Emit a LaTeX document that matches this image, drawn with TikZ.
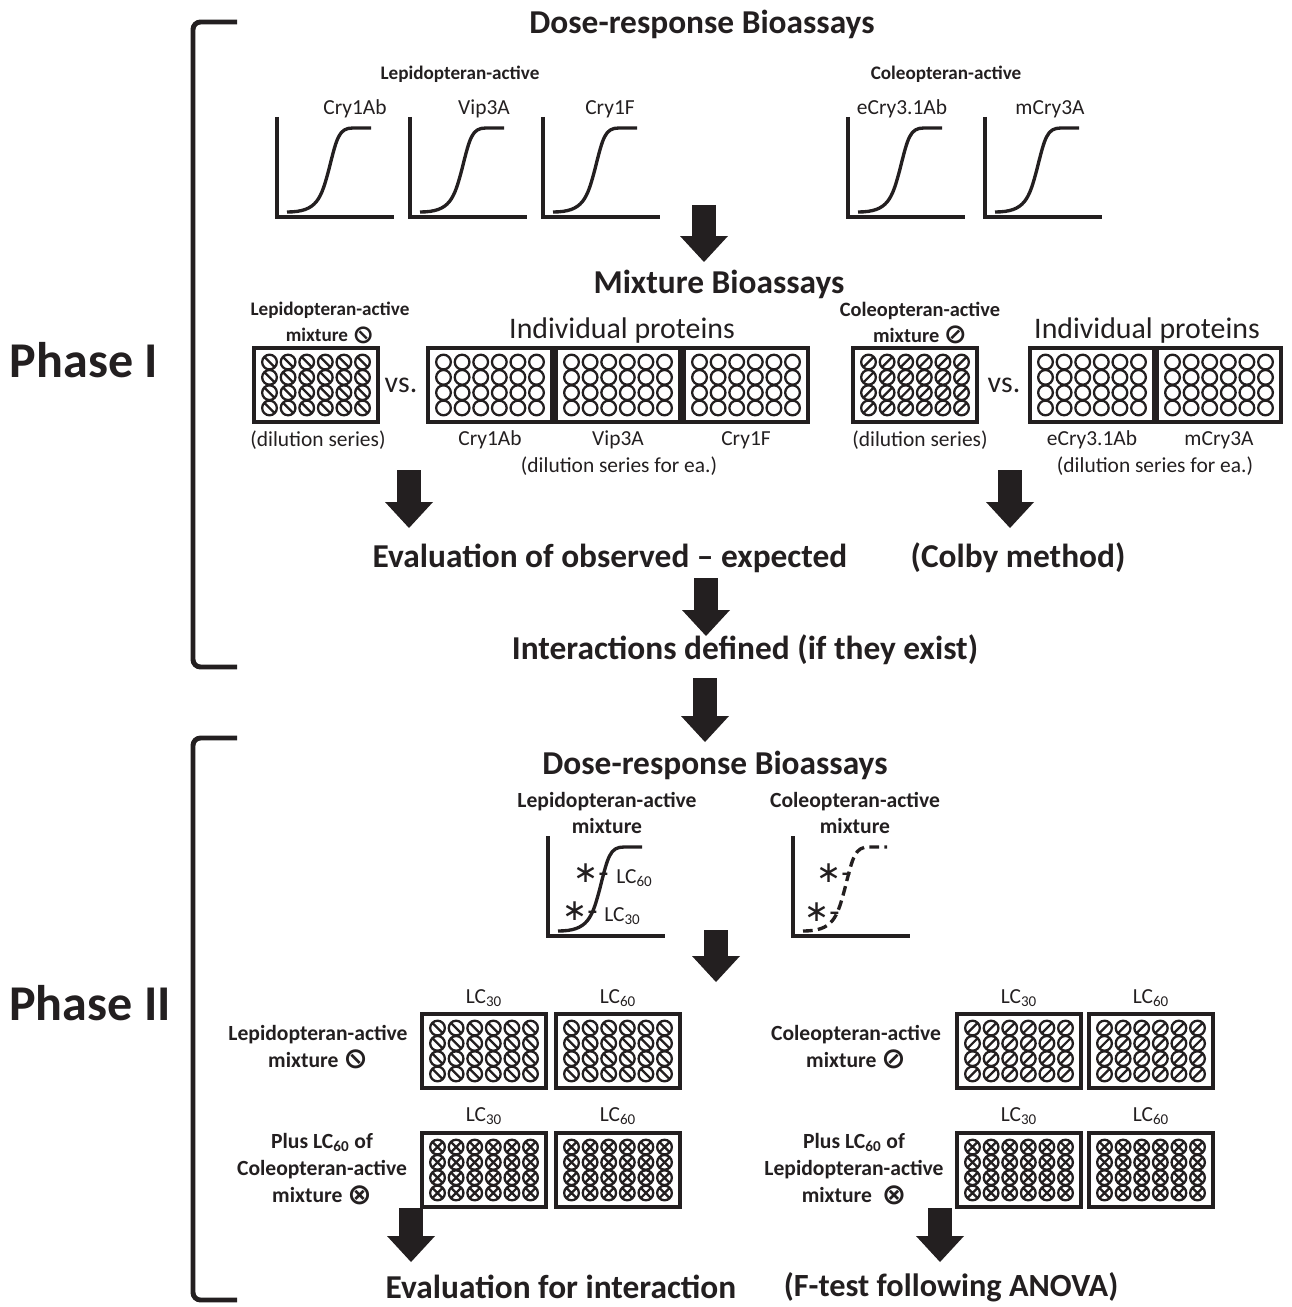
\documentclass[tikz,border=0pt]{standalone}
\usepackage{fontspec}
\usepackage{graphicx}
\setmainfont{Carlito}
\newfontfamily\symfont{DejaVu Sans}
\usetikzlibrary{arrows.meta}
\definecolor{ink}{RGB}{35,31,32}
\newcommand{\lepsym}{\raisebox{-0.15ex}{\scalebox{1.35}{\reflectbox{\symfont ⊘}}}}
\newcommand{\colsym}{\raisebox{-0.15ex}{\scalebox{1.35}{\symfont ⊘}}}
\newcommand{\plussym}{\raisebox{-0.15ex}{\scalebox{1.35}{\symfont ⊗}}}
\newcommand{\lcmark}{{\symfont ∗-}}
\tikzstyle{ttl} = [font=\fontsize{19}{23}\selectfont\bfseries, text=ink, inner sep=0pt]
\tikzstyle{phasetxt} = [font=\fontsize{28.5}{34}\selectfont\bfseries, text=ink, inner sep=0pt]
\tikzstyle{smalltxt} = [font=\fontsize{12.2}{15}\selectfont, text=ink, inner sep=0pt]
\tikzstyle{midtxt} = [font=\fontsize{17}{20}\selectfont, text=ink, inner sep=0pt]
\tikzstyle{headtxt} = [font=\fontsize{10.9}{14.7}\selectfont\bfseries, text=ink, inner sep=0pt, align=center]
\tikzstyle{headtxtb} = [font=\fontsize{12.3}{15.3}\selectfont\bfseries, text=ink, inner sep=0pt, align=center]
\tikzstyle{startxt} = [font=\fontsize{17}{18}\selectfont, text=ink, inner sep=0pt]
\tikzstyle{fatarrow} = [draw=ink, line width=0.48cm, -{Triangle[length=0.52cm,width=0.96cm,line width=0pt]}]
\tikzstyle{bracket} = [draw=ink, line width=2.8pt, rounded corners=0.15cm]
\tikzstyle{axisline} = [draw=ink, line width=2.8pt]
\tikzstyle{curveline} = [draw=ink, line width=1.9pt]
\tikzstyle{plateline} = [draw=ink, line width=2.6pt]
\tikzstyle{wellline} = [draw=ink, line width=1.3pt]
\tikzset{
  pics/plate/.style={code={
    \draw[plateline] (-62,-37) rectangle (62,37);
    \foreach \col in {0,...,5}
      \foreach \row in {0,...,3}
        \pic at ({(\col-2.5)*18.6},{(1.5-\row)*15.3}) {#1};
  }},
  pics/wellO/.style={code={\draw[wellline] (0,0) circle[radius=0.147cm];}},
  pics/wellL/.style={code={\draw[wellline] (0,0) circle[radius=0.147cm] (135:0.147cm) -- (-45:0.147cm);}},
  pics/wellC/.style={code={\draw[wellline] (0,0) circle[radius=0.147cm] (45:0.147cm) -- (225:0.147cm);}},
  pics/wellX/.style={code={\draw[wellline] (0,0) circle[radius=0.147cm] (45:0.147cm) -- (225:0.147cm) (135:0.147cm) -- (-45:0.147cm);}},
  pics/doseplot/.style={code={
    \draw[axisline] (0,100) -- (0,0) -- (117,0);
    \draw[curveline,#1] (10,5) .. controls (40,5) and (44,18) .. (52,48) .. controls (60,80) and (62,89) .. (76,89) -- (94,89);
  }},
}

\begin{document}
\begin{tikzpicture}[x=0.02cm, y=0.02cm]
    \useasboundingbox (0,0) rectangle (1291,-1307);
    % Phase I
    \draw [bracket] (237,-22) -- (193,-22) -- (193,-667) -- (237,-667);
    \node [phasetxt] (phase1) at (84,-360) {Phase I};
    \node [ttl] (dose1) at (702,-24) {Dose-response Bioassays};
    \node [headtxt] (lep1) at (460,-74) {Lepidopteran-active};
    \node [headtxt] (col1) at (946,-74) {Coleopteran-active};
    \node [smalltxt] (c1ab) at (355,-109) {Cry1Ab};
    \node [smalltxt] (v3a) at (484,-109) {Vip3A};
    \node [smalltxt] (c1f) at (610,-109) {Cry1F};
    \node [smalltxt] (ec3) at (902,-109) {eCry3.1Ab};
    \node [smalltxt] (mc3) at (1050,-109) {mCry3A};
    \pic at (277,-217) {doseplot};
    \pic at (410,-217) {doseplot};
    \pic at (543,-217) {doseplot};
    \pic at (848,-217) {doseplot};
    \pic at (985,-217) {doseplot};
    \coordinate (a1s) at (704,-205);
    \coordinate (a1e) at (704,-262);
    \draw [fatarrow] (a1s) -- (a1e);

    \node [ttl] (mix) at (719,-284) {Mixture Bioassays};
    \node [headtxt] (lepmix) at (330,-323) {Lepidopteran-active\\mixture \lepsym};
    \node [midtxt] (ind1) at (622,-331) {Individual proteins};
    \node [headtxt, font=\fontsize{11.6}{14.7}\selectfont\bfseries] (colmix) at (920,-323) {Coleopteran-active\\mixture \colsym};
    \node [midtxt] (ind2) at (1147,-331) {Individual proteins};
    \pic at (316,-385) {plate=wellL};
    \node [midtxt] (vs1) at (401,-385) {vs.};
    \pic at (490,-385) {plate=wellO};
    \pic at (618,-385) {plate=wellO};
    \pic at (746,-385) {plate=wellO};
    \pic at (915,-385) {plate=wellC};
    \node [midtxt] (vs2) at (1004,-385) {vs.};
    \pic at (1092,-385) {plate=wellO};
    \pic at (1219,-385) {plate=wellO};
    \node [smalltxt] (dil1) at (318,-440) {(dilution series)};
    \node [smalltxt] (pc1ab) at (490,-440) {Cry1Ab};
    \node [smalltxt] (pv3a) at (618,-440) {Vip3A};
    \node [smalltxt] (pc1f) at (746,-440) {Cry1F};
    \node [smalltxt] (dilea1) at (619,-466) {(dilution series for ea.)};
    \node [smalltxt] (dil2) at (920,-440) {(dilution series)};
    \node [smalltxt] (pec3) at (1092,-440) {eCry3.1Ab};
    \node [smalltxt] (pmc3) at (1219,-440) {mCry3A};
    \node [smalltxt] (dilea2) at (1155,-466) {(dilution series for ea.)};
    \coordinate (a2s) at (409,-470);
    \coordinate (a2e) at (409,-528);
    \coordinate (a3s) at (1010,-470);
    \coordinate (a3e) at (1010,-528);
    \draw [fatarrow] (a2s) -- (a2e);
    \draw [fatarrow] (a3s) -- (a3e);

    \node [ttl] (evalobs) at (610,-558) {Evaluation of observed -- expected};
    \node [ttl] (colby) at (1018,-558) {(Colby method)};
    \coordinate (a4s) at (706,-578);
    \coordinate (a4e) at (706,-636);
    \draw [fatarrow] (a4s) -- (a4e);
    \node [ttl] (inter) at (745,-650) {Interactions defined (if they exist)};
    \coordinate (a5s) at (705,-678);
    \coordinate (a5e) at (705,-742);
    \draw [fatarrow] (a5s) -- (a5e);

    % Phase II
    \draw [bracket] (237,-738) -- (193,-738) -- (193,-1300) -- (237,-1300);
    \node [phasetxt] (phase2) at (90,-1003) {Phase II};
    \node [ttl] (dose2) at (715,-765) {Dose-response Bioassays};
    \node [headtxtb] (lepmix2) at (607,-813) {Lepidopteran-active\\mixture};
    \node [headtxtb] (colmix2) at (855,-813) {Coleopteran-active\\mixture};
    \pic at (548,-936) {doseplot};
    \pic at (793,-936) {doseplot={dash pattern=on 5.5pt off 3pt}};
    \node [startxt, anchor=east] (s60) at (610,-873) {\lcmark};
    \node [startxt, anchor=east] (s30) at (599,-911) {\lcmark};
    \node [smalltxt, anchor=west] (lc60) at (616,-878) {LC\textsubscript{60}};
    \node [smalltxt, anchor=west] (lc30) at (604,-916) {LC\textsubscript{30}};
    \node [startxt, anchor=east] (d60) at (853,-873) {\lcmark};
    \node [startxt, anchor=east] (d30) at (841,-912) {\lcmark};
    \coordinate (a6s) at (716,-930);
    \coordinate (a6e) at (716,-982);
    \draw [fatarrow] (a6s) -- (a6e);

    \node [smalltxt] (l30a) at (484,-998) {LC\textsubscript{30}};
    \node [smalltxt] (l60a) at (618,-998) {LC\textsubscript{60}};
    \node [smalltxt] (l30b) at (1019,-998) {LC\textsubscript{30}};
    \node [smalltxt] (l60b) at (1151,-998) {LC\textsubscript{60}};
    \node [headtxtb] (lepmix3) at (318,-1047) {Lepidopteran-active\\mixture \lepsym};
    \node [headtxtb] (colmix3) at (856,-1047) {Coleopteran-active\\mixture \colsym};
    \pic at (484,-1051) {plate=wellL};
    \pic at (618,-1051) {plate=wellL};
    \pic at (1019,-1051) {plate=wellC};
    \pic at (1151,-1051) {plate=wellC};

    \node [smalltxt] (l30c) at (484,-1116) {LC\textsubscript{30}};
    \node [smalltxt] (l60c) at (618,-1116) {LC\textsubscript{60}};
    \node [smalltxt] (l30d) at (1019,-1116) {LC\textsubscript{30}};
    \node [smalltxt] (l60d) at (1151,-1116) {LC\textsubscript{60}};
    \node [headtxtb] (plus1) at (322,-1169) {Plus LC\textsubscript{60} of\\Coleopteran-active\\mixture \plussym};
    \node [headtxtb] (plus2) at (854,-1169) {Plus LC\textsubscript{60} of\\Lepidopteran-active\\mixture \ \plussym};
    \pic at (484,-1170) {plate=wellX};
    \pic at (618,-1170) {plate=wellX};
    \pic at (1019,-1170) {plate=wellX};
    \pic at (1151,-1170) {plate=wellX};
    \coordinate (a7s) at (411,-1208);
    \coordinate (a7e) at (411,-1262);
    \coordinate (a8s) at (940,-1208);
    \coordinate (a8e) at (940,-1262);
    \draw [fatarrow] (a7s) -- (a7e);
    \draw [fatarrow] (a8s) -- (a8e);
    \node [ttl] (evalint) at (561,-1287) {Evaluation for interaction};
    \node [ttl, font=\fontsize{18.4}{23}\selectfont\bfseries] (ftest) at (951,-1287) {(F-test following ANOVA)};
\end{tikzpicture}
\end{document}
